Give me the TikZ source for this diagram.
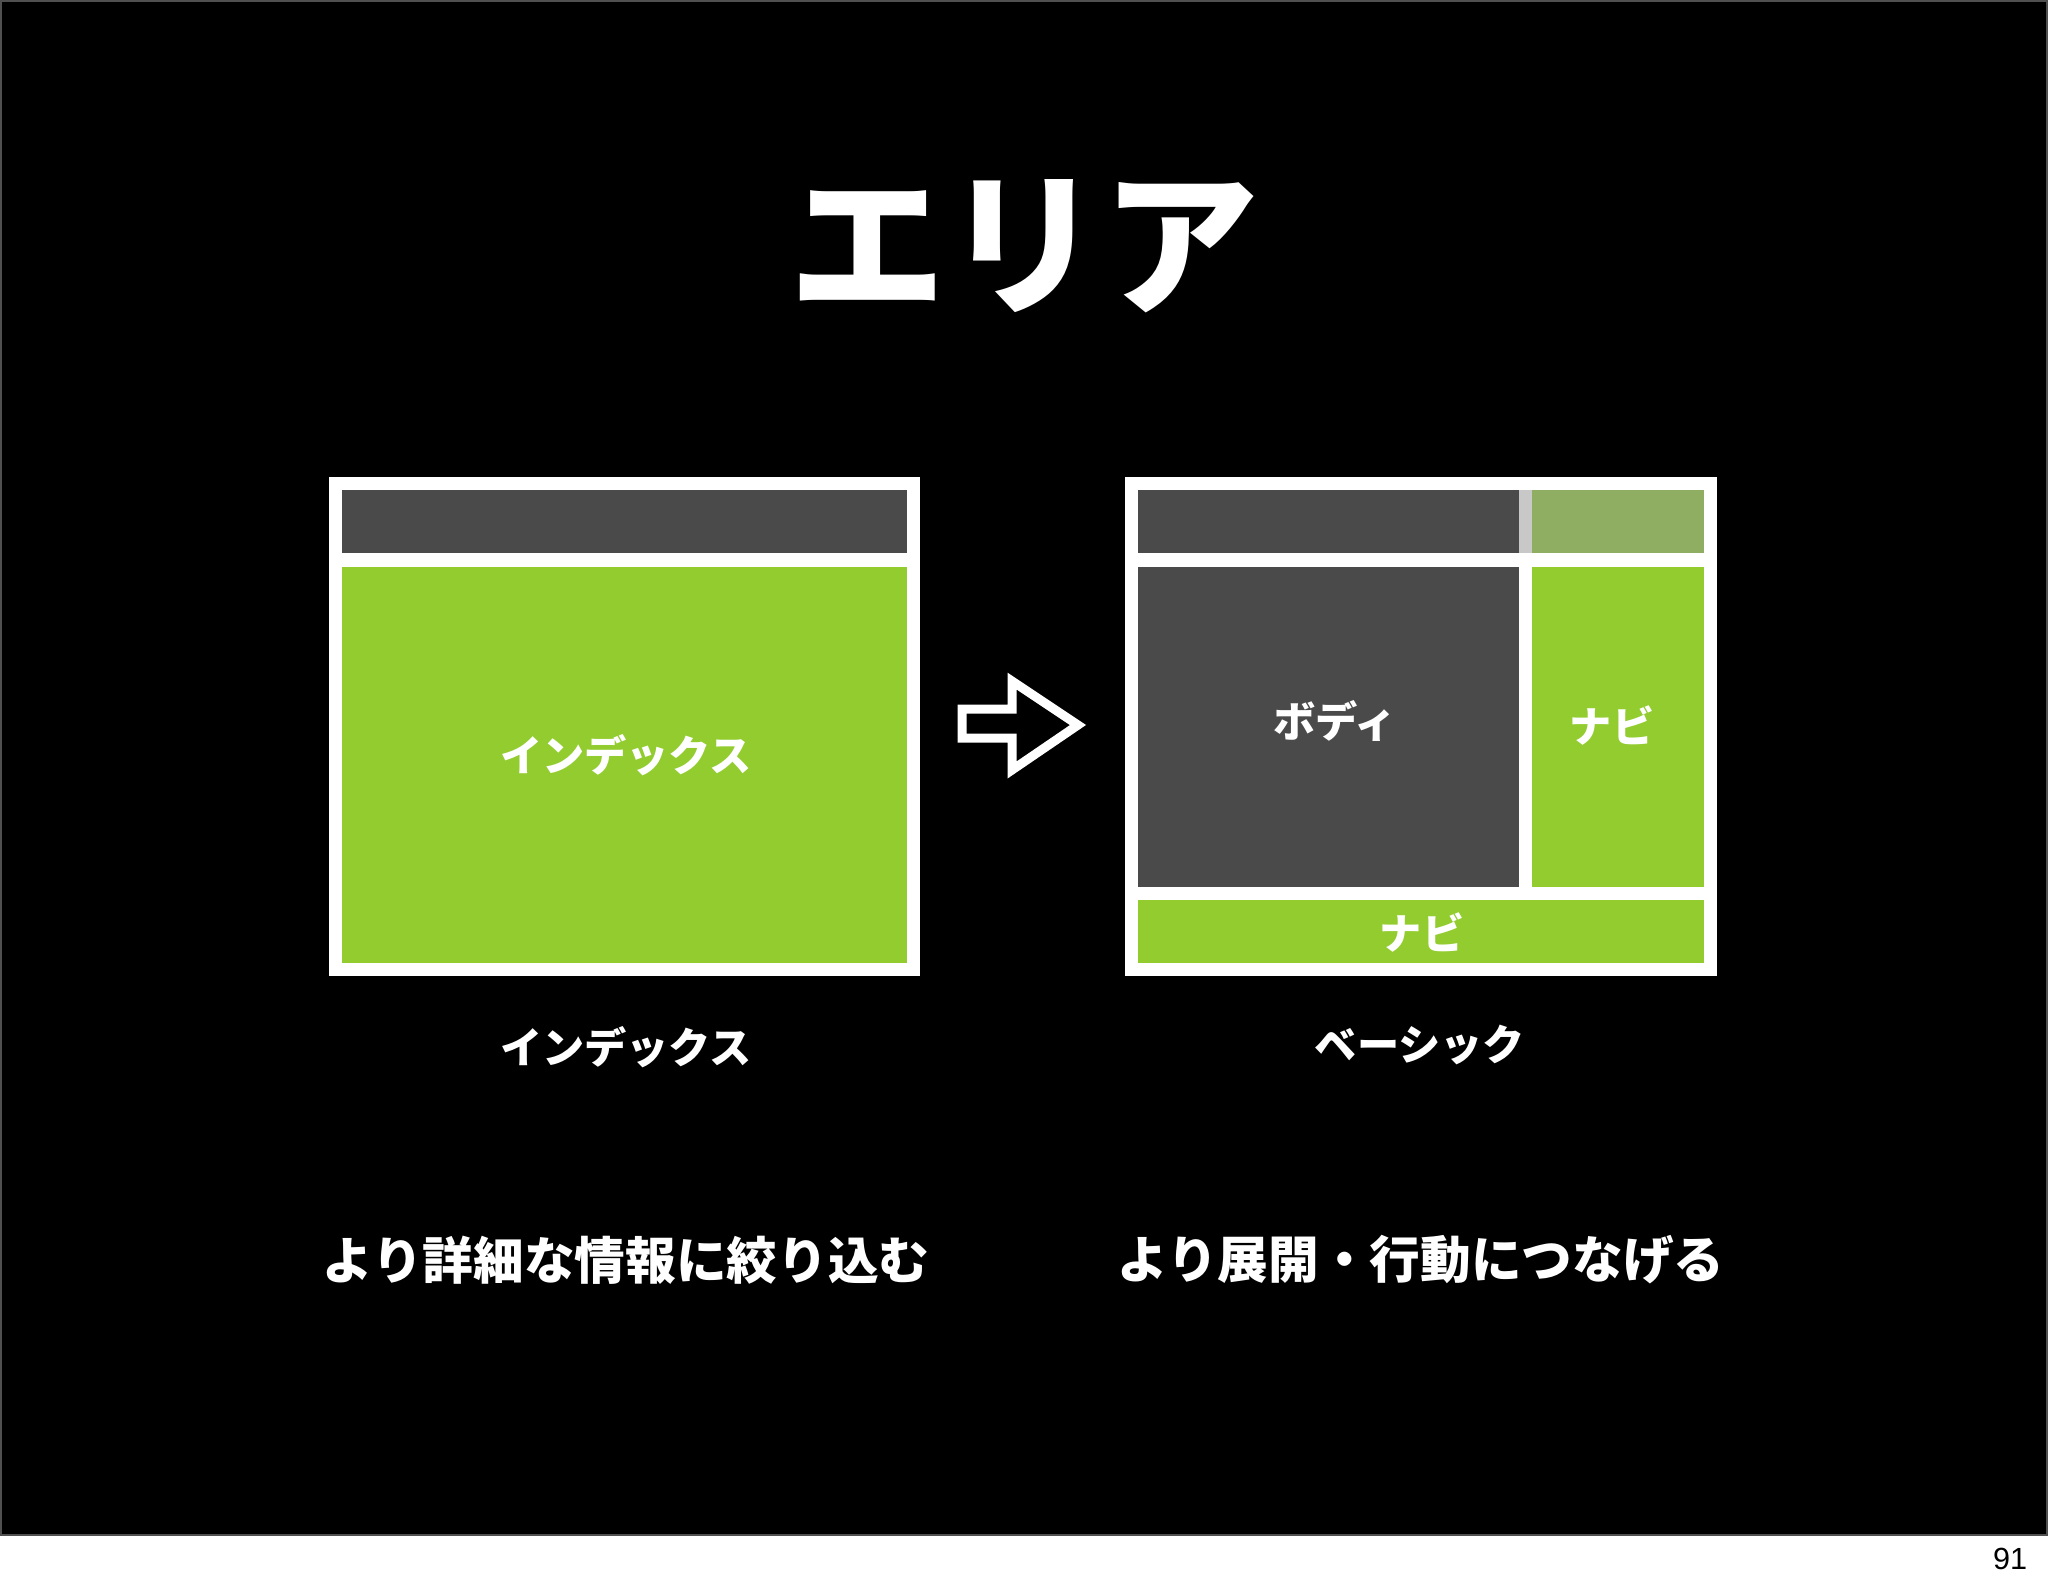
\documentclass[tikz,border=0pt]{standalone}
\usepackage{fontspec}
\setmainfont{Noto Sans CJK JP}
\newfontfamily\pagefont{Liberation Sans}
\definecolor{areagreen}{RGB}{146,204,47}
\definecolor{areagray}{RGB}{74,74,74}
\definecolor{areaolive}{RGB}{143,174,98}
\definecolor{stripgray}{RGB}{200,200,200}
\definecolor{slideedge}{RGB}{80,80,80}

\begin{document}
\begin{tikzpicture}
		[
			x=0.01cm, y=-0.01cm,
			% White frame round each sketch.
			frame/.style={fill=white},
			% Dark grey and green areas of a sketch.
			darkarea/.style={fill=areagray},
			greenarea/.style={fill=areagreen},
			% Texts on the slide.
			boxlabel/.style={text=white, font=\bfseries\fontsize{12}{14}\selectfont},
			caption/.style={text=white, font=\bfseries\fontsize{14.4}{17}\selectfont}
		]
			\useasboundingbox (0,0) rectangle (2048,1587);
			\fill[white] (0,0) rectangle (2048,1587);
			\filldraw[fill=black, draw=slideedge, line width=0.02cm] (1,1) rectangle (2047,1535);

			\node[text=white, font=\bfseries\fontsize{44.5}{50}\selectfont] (title) at (1024,246) {エリア};

			% Left sketch.
			\fill[frame] (329,477) rectangle (920,976);
			\fill[darkarea] (342,490) rectangle (907,553);
			\fill[greenarea] (342,567) rectangle (907,963);
			\node[boxlabel] (index) at (626,755) {インデックス};

			% Arrow between the sketches.
			\filldraw[fill=black, draw=white, line width=0.09cm]
				(962,709) -- (1012,709) -- (1012,681) -- (1078,725)
				-- (1012,770) -- (1012,738) -- (962,738) -- cycle;

			% Right sketch.
			\fill[frame] (1125,477) rectangle (1717,976);
			\fill[darkarea] (1138,490) rectangle (1519,553);
			\fill[stripgray] (1519,490) rectangle (1532,553);
			\fill[areaolive] (1532,490) rectangle (1704,553);
			\fill[darkarea] (1138,567) rectangle (1519,887);
			\fill[greenarea] (1532,567) rectangle (1704,887);
			\fill[greenarea] (1138,900) rectangle (1704,963);
			\node[boxlabel] (body) at (1335,721) {ボディ};
			\node[boxlabel] (sidenavi) at (1612,725) {ナビ};
			\node[boxlabel] (footnavi) at (1422,932) {ナビ};

			% Names under the sketches.
			\node[boxlabel] (indexname) at (626,1047) {インデックス};
			\node[boxlabel] (basicname) at (1420,1045) {ベーシック};

			\node[caption] (narrow) at (626,1260) {より詳細な情報に絞り込む};
			\node[caption] (expand) at (1421,1260) {より展開・行動につなげる};

			\node[text=black, font=\pagefont\fontsize{8.7}{10}\selectfont] (page) at (2010,1559) {91};
		\end{tikzpicture}
\end{document}
